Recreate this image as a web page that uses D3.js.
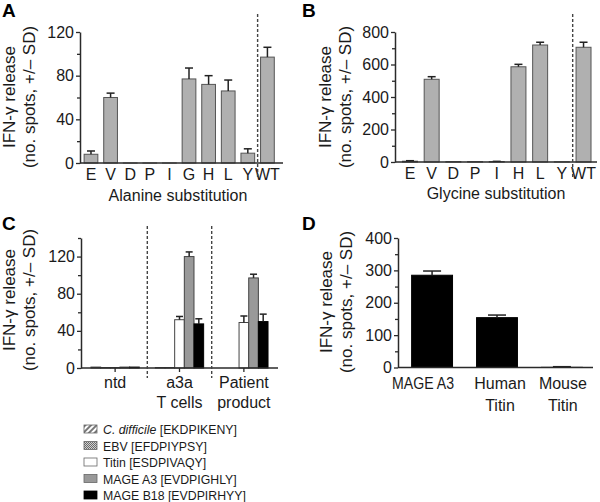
<!DOCTYPE html>
<html><head><meta charset="utf-8">
<script src="https://cdn.jsdelivr.net/npm/d3@7"></script>
<style>
body{margin:0;background:#fff;}
svg{display:block;font-family:"Liberation Sans",Arial,sans-serif;}
</style></head>
<body><svg id="c" width="600" height="502"></svg>
<script>
// ---- Data ----
const catsA = ["E","V","D","P","I","G","H","L","Y","WT"];
const valsA = [8,60,0,0,0,77,72,66,9,97];
const sdA   = [3,4,0,0,0,10,8,10,4,9];

const catsB = ["E","V","D","P","I","H","L","Y","WT"];
const valsB = [5,509,2,2,3,586,720,1,706];
const sdB   = [3,16,0,0,1,15,17,0,31];

const groupsC = ["ntd","a3a|T cells","Patient|product"];
const seriesC = ["C. difficile","EBV","Titin","MAGE A3","MAGE B18"];
const peptidesC = ["[EKDPIKENY]","[EFDPIYPSY]","[ESDPIVAQY]","[EVDPIGHLY]","[EVDPIRHYY]"];
const cdiffC = [1,0.5,0];
const ebvC   = [0.5,0.5,0];
const titinC = [0.5,52,49];
const a3C    = [1,120,97];
const b18C   = [1,47.5,50];
const sdTitinC = [0,3.5,7];
const sdA3C    = [0,5,4];
const sdB18C   = [0,5.5,8];

const catsD = ["MAGE A3","Human|Titin","Mouse|Titin"];
const valsD = [285,154,0.5];
const sdD   = [13,8,2];

const ticksA = [0,40,80,120], minorA = [20,60,100];
const ticksB = [0,200,400,600,800], minorB = [100,300,500,700];
const ticksC = [0,40,80,120], minorC = [20,60,100,140];
const ticksD = [0,100,200,300,400], minorD = [50,150,250,350];

// ---- Drawing ----
const svg = d3.select("#c");
const TXT = "#1a1a1a", AX = "#2a2a2a";
const defs = svg.append("defs");
const hatch = defs.append("pattern").attr("id","hatch").attr("patternUnits","userSpaceOnUse")
  .attr("width",4).attr("height",4).attr("patternTransform","rotate(45)");
hatch.append("rect").attr("width",4).attr("height",4).attr("fill","#fff");
hatch.append("rect").attr("width",2).attr("height",4).attr("fill","#777");
const dots = defs.append("pattern").attr("id","dots").attr("patternUnits","userSpaceOnUse")
  .attr("width",2).attr("height",2);
dots.append("rect").attr("width",2).attr("height",2).attr("fill","#d0d0d0");
dots.append("rect").attr("width",1).attr("height",1).attr("fill","#6a6a6a");
dots.append("rect").attr("x",1).attr("y",1).attr("width",1).attr("height",1).attr("fill","#6a6a6a");

const fillsC = ["url(#hatch)","url(#dots)","#ffffff","#999999","#000000"];

function yAxis(x0, y, major, minor){
  const g1 = svg.append("g").attr("transform",`translate(${x0},0)`)
    .call(d3.axisLeft(y).tickValues(minor).tickSize(3).tickFormat(""));
  g1.select(".domain").remove();
  const g2 = svg.append("g").attr("transform",`translate(${x0},0)`)
    .call(d3.axisLeft(y).tickValues(major).tickSize(4).tickPadding(2).tickSizeOuter(0));
  [g1,g2].forEach(g=>{
    g.selectAll("line").attr("stroke",AX).attr("stroke-width",1.3);
    g.select(".domain").attr("stroke",AX).attr("stroke-width",1.5);
    g.selectAll("text").attr("font-size",16).attr("fill",TXT).attr("font-family","Liberation Sans, Arial, sans-serif");
  });
}
function xLine(x0,x1,y0){
  svg.append("line").attr("x1",x0).attr("x2",x1).attr("y1",y0).attr("y2",y0)
    .attr("stroke",AX).attr("stroke-width",1.5);
}
function yTitle(xb, cy){
  const g = svg.append("g").attr("transform",`translate(${xb},${cy}) rotate(-90)`)
    .attr("font-size",17).attr("fill",TXT).attr("text-anchor","middle");
  g.append("text").attr("x",0).attr("y",-20).text("IFN-γ release");
  g.append("text").attr("x",0).attr("y",0).text("(no. spots, +/– SD)");
}
function panelLabel(t,x,y){
  svg.append("text").attr("x",x).attr("y",y).attr("font-size",19).attr("font-weight","bold")
    .attr("fill","#000").text(t);
}
function xLabels(x, cats, yb, lh, adjust){
  cats.forEach((c,ci)=>{
    const t = svg.append("text").attr("text-anchor","middle").attr("font-size",16).attr("fill",TXT);
    const a = adjust ? adjust[ci] : null;
    c.split("|").forEach((s,i)=>{
      const ts = t.append("tspan").attr("x",x(c)+x.bandwidth()/2+(a?a.dx:0)).attr("y",yb+i*lh).text(s);
      if(a && a.len && i===0) ts.attr("textLength",a.len).attr("lengthAdjust","spacingAndGlyphs");
    });
  });
}
function bars(x, y, cats, vals, sds, fill, stroke, capW){
  cats.forEach((c,i)=>{
    const bx = x(c), bw = x.bandwidth();
    svg.append("rect").attr("x",bx).attr("y",y(vals[i])).attr("width",bw)
      .attr("height",Math.max(0.01,y(0)-y(vals[i])))
      .attr("fill",fill).attr("stroke",stroke).attr("stroke-width",1);
    if(sds && sds[i]>0){
      const cx = bx+bw/2;
      svg.append("line").attr("x1",cx).attr("x2",cx).attr("y1",y(vals[i])).attr("y2",y(vals[i]+sds[i]))
        .attr("stroke","#222").attr("stroke-width",1.5);
      svg.append("line").attr("x1",cx-capW/2).attr("x2",cx+capW/2).attr("y1",y(vals[i]+sds[i])).attr("y2",y(vals[i]+sds[i]))
        .attr("stroke","#222").attr("stroke-width",1.5);
    }
  });
}
function dashed(x0,y0,y1){
  svg.append("line").attr("x1",x0).attr("x2",x0).attr("y1",y0).attr("y2",y1)
    .attr("stroke","#444").attr("stroke-width",1.4).attr("stroke-dasharray","3,2");
}

// Panel A
{
  const y = d3.scaleLinear().domain([0,120]).range([163,32]);
  const x = d3.scaleBand().domain(catsA).range([80,278.4]).paddingInner(0.3).paddingOuter(0.21);
  bars(x,y,catsA,valsA,sdA,"#b0b0b0","#555",8);
  xLine(80,283,y(0));
  yAxis(80,y,ticksA,minorA);
  xLabels(x,catsA,180,20);
  dashed((x("Y")+x.bandwidth()+x("WT"))/2,14,178);
  yTitle(35,97);
  svg.append("text").attr("x",178).attr("y",201).attr("text-anchor","middle").attr("font-size",16).attr("fill",TXT).text("Alanine substitution");
  panelLabel("A",2,17);
}
// Panel B
{
  const y = d3.scaleLinear().domain([0,800]).range([162,32]);
  const x = d3.scaleBand().domain(catsB).range([395,598.5]).paddingInner(0.31).paddingOuter(0.345);
  bars(x,y,catsB,valsB,sdB,"#b0b0b0","#555",8);
  xLine(395,597,y(0));
  yAxis(395,y,ticksB,minorB);
  xLabels(x,catsB,179,20);
  dashed((x("Y")+x.bandwidth()+x("WT"))/2,14,178);
  yTitle(351,97);
  svg.append("text").attr("x",496).attr("y",199).attr("text-anchor","middle").attr("font-size",16).attr("fill",TXT).text("Glycine substitution");
  panelLabel("B",302,17);
}
// Panel C
{
  const y = d3.scaleLinear().domain([0,140]).range([368,238]);
  const x = d3.scaleBand().domain(groupsC).range([81,278]).paddingInner(0.25).paddingOuter(0.155);
  const xs = d3.scaleBand().domain(seriesC).range([0,x.bandwidth()]).padding(0);
  const valsC = [cdiffC,ebvC,titinC,a3C,b18C];
  const sdsC = [null,null,sdTitinC,sdA3C,sdB18C];
  seriesC.forEach((s,k)=>{
    groupsC.forEach((g,i)=>{
      const bx = x(g)+xs(s), bw = xs.bandwidth(), v = valsC[k][i];
      if(v<=0) return;
      svg.append("rect").attr("x",bx).attr("y",y(v)).attr("width",bw).attr("height",y(0)-y(v))
        .attr("fill",fillsC[k]).attr("stroke",k===4?"#000":"#444").attr("stroke-width",1);
      const sd = sdsC[k] ? sdsC[k][i] : 0;
      if(sd>0){
        const cx = bx+bw/2;
        svg.append("line").attr("x1",cx).attr("x2",cx).attr("y1",y(v)).attr("y2",y(v+sd)).attr("stroke","#222").attr("stroke-width",1.5);
        svg.append("line").attr("x1",cx-3.5).attr("x2",cx+3.5).attr("y1",y(v+sd)).attr("y2",y(v+sd)).attr("stroke","#222").attr("stroke-width",1.5);
      }
    });
  });
  xLine(81,278,y(0));
  groupsC.forEach(g=>{
    const cx = x(g)+x.bandwidth()/2;
    svg.append("line").attr("x1",cx).attr("x2",cx).attr("y1",y(0)).attr("y2",y(0)+4).attr("stroke",AX).attr("stroke-width",1.3);
  });
  yAxis(81,y,ticksC,minorC);
  xLabels(x,groupsC,388,20);
  const step = x.step();
  dashed(x(groupsC[1])-(step-x.bandwidth())/2,226,378);
  dashed(x(groupsC[2])-(step-x.bandwidth())/2,226,378);
  yTitle(35,300);
  panelLabel("C",2,230);
  const lg = svg.append("g");
  seriesC.forEach((s,k)=>{
    const yb = 434 + k*16.5;
    lg.append("rect").attr("x",84).attr("y",yb-9).attr("width",13).attr("height",8)
      .attr("fill",fillsC[k]).attr("stroke",k===4?"#000":"#666").attr("stroke-width",0.8);
    const t = lg.append("text").attr("x",103).attr("y",yb).attr("font-size",12.3).attr("fill",TXT);
    t.append("tspan").attr("font-style",k===0?"italic":"normal").text(s);
    t.append("tspan").text(" "+peptidesC[k]);
  });
}
// Panel D
{
  const y = d3.scaleLinear().domain([0,400]).range([367.5,238]);
  const x = d3.scaleBand().domain(catsD).range([398,596]).paddingInner(0.37).paddingOuter(0.21);
  bars(x,y,catsD,valsD,sdD,"#000","#000",18);
  xLine(398,593,y(0));
  yAxis(398,y,ticksD,minorD);
  xLabels(x,catsD,389,22,[{dx:-9,len:62},{dx:3},{dx:1}]);
  yTitle(352,302);
  panelLabel("D",302,230);
}
</script></body></html>
